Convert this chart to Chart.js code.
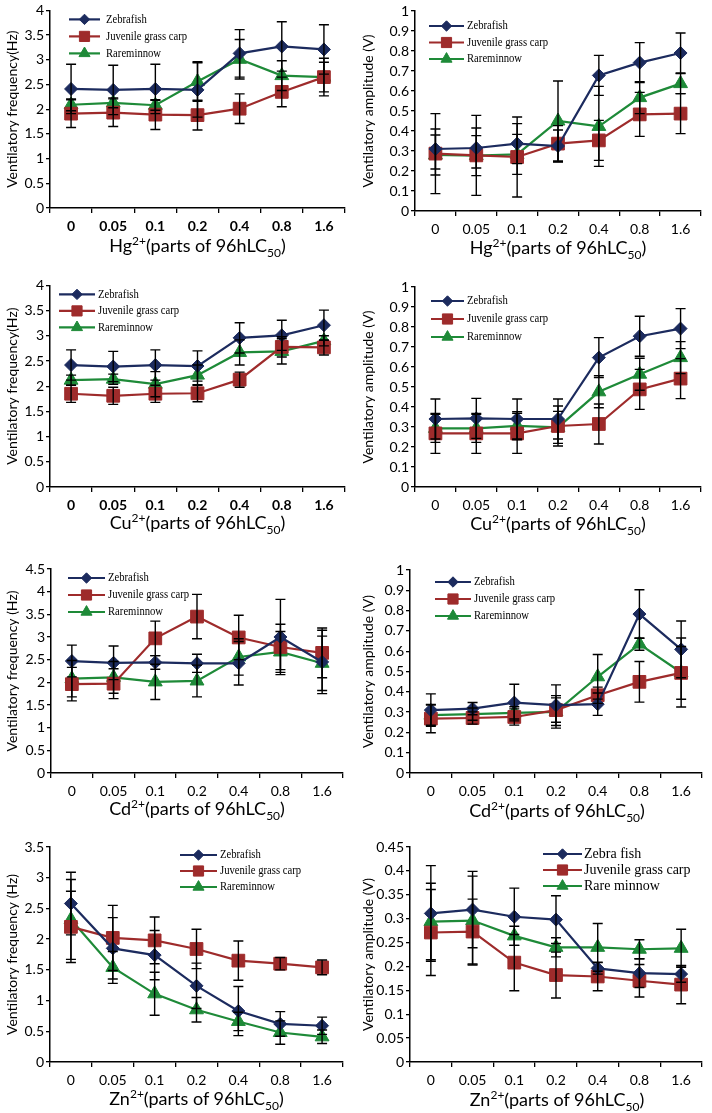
<!DOCTYPE html>
<html>
<head>
<meta charset="utf-8">
<script src="https://cdn.jsdelivr.net/npm/chart.js@4.4.1/dist/chart.umd.min.js"></script>
<style>
  body { margin: 0; background: #fff; }
  #page { position: relative; width: 712px; height: 1113px; overflow: hidden; }
  .box { position: absolute; }
  .xt { position: absolute; font-family: Lato, sans-serif; font-size: 18px; color: #000;
        text-align: center; white-space: nowrap; line-height: 20px; }
  .xt sup, .xt sub { font-size: 12px; line-height: 0; }
</style>
</head>
<body>
<div id="page"></div>
<script>
const doses = ['0', '0.05', '0.1', '0.2', '0.4', '0.8', '1.6'];
const species = ['Zebrafish', 'Juvenile grass carp', 'Rareminnow'];
const speciesZn = ['Zebra fish', 'Juvenile grass carp', 'Rare minnow'];

// rows: zebrafish, juvenile grass carp, rare minnow
const hgFreq = [
  [2.41, 2.39, 2.41, 2.39, 3.13, 3.27, 3.21],
  [1.91, 1.93, 1.89, 1.88, 2.01, 2.35, 2.65],
  [2.09, 2.13, 2.08, 2.56, 3.01, 2.68, 2.65]
];
const hgFreqSd = [
  [0.5, 0.5, 0.5, 0.55, 0.48, 0.5, 0.5],
  [0.28, 0.28, 0.3, 0.3, 0.3, 0.3, 0.38],
  [0.12, 0.1, 0.1, 0.4, 0.4, 0.3, 0.3]
];
const hgAmp = [
  [0.31, 0.315, 0.337, 0.325, 0.678, 0.742, 0.79],
  [0.287, 0.278, 0.27, 0.337, 0.353, 0.483, 0.487],
  [0.28, 0.277, 0.283, 0.45, 0.423, 0.567, 0.637]
];
const hgAmpSd = [
  [0.1, 0.1, 0.1, 0.08, 0.1, 0.1, 0.1],
  [0.2, 0.2, 0.2, 0.09, 0.1, 0.11, 0.1],
  [0.1, 0.1, 0.1, 0.2, 0.2, 0.08, 0.05]
];
const cuFreq = [
  [2.42, 2.39, 2.42, 2.40, 2.96, 3.01, 3.21],
  [1.85, 1.81, 1.85, 1.86, 2.13, 2.78, 2.77],
  [2.12, 2.14, 2.04, 2.22, 2.67, 2.69, 2.9]
];
const cuFreqSd = [
  [0.3, 0.3, 0.3, 0.3, 0.3, 0.3, 0.3],
  [0.17, 0.17, 0.17, 0.17, 0.15, 0.2, 0.15],
  [0.1, 0.1, 0.25, 0.2, 0.25, 0.25, 0.1]
];
const cuAmp = [
  [0.34, 0.343, 0.34, 0.34, 0.647, 0.754, 0.792],
  [0.268, 0.268, 0.268, 0.305, 0.315, 0.488, 0.542],
  [0.293, 0.293, 0.306, 0.298, 0.476, 0.564, 0.647]
];
const cuAmpSd = [
  [0.1, 0.1, 0.1, 0.1, 0.1, 0.1, 0.1],
  [0.1, 0.1, 0.1, 0.1, 0.1, 0.1, 0.1],
  [0.07, 0.07, 0.07, 0.08, 0.08, 0.08, 0.08]
];
const cdFreq = [
  [2.47, 2.43, 2.44, 2.42, 2.42, 3.0, 2.45],
  [1.96, 1.97, 2.97, 3.45, 2.99, 2.78, 2.65],
  [2.08, 2.11, 2.01, 2.03, 2.56, 2.67, 2.42]
];
const cdFreqSd = [
  [0.35, 0.37, 0.15, 0.2, 0.48, 0.83, 0.7],
  [0.37, 0.33, 0.38, 0.49, 0.49, 0.5, 0.55],
  [0.4, 0.35, 0.39, 0.35, 0.4, 0.45, 0.6]
];
const cdAmp = [
  [0.31, 0.317, 0.347, 0.334, 0.339, 0.783, 0.609],
  [0.268, 0.271, 0.276, 0.31, 0.383, 0.449, 0.493],
  [0.285, 0.29, 0.296, 0.301, 0.474, 0.635, 0.495]
];
const cdAmpSd = [
  [0.08, 0.03, 0.09, 0.1, 0.055, 0.12, 0.14],
  [0.07, 0.03, 0.04, 0.06, 0.04, 0.1, 0.13],
  [0.05, 0.03, 0.03, 0.08, 0.11, 0.03, 0.17]
];
const znFreq = [
  [2.58, 1.85, 1.74, 1.24, 0.83, 0.62, 0.59],
  [2.2, 2.02, 1.98, 1.84, 1.65, 1.6, 1.54],
  [2.32, 1.54, 1.11, 0.85, 0.66, 0.48, 0.41]
];
const znFreqSd = [
  [0.51, 0.5, 0.4, 0.37, 0.4, 0.2, 0.14],
  [0.58, 0.53, 0.38, 0.32, 0.32, 0.1, 0.12],
  [0.65, 0.26, 0.35, 0.2, 0.15, 0.19, 0.11]
];
const znAmp = [
  [0.311, 0.319, 0.304, 0.298, 0.196, 0.186, 0.184],
  [0.271, 0.273, 0.208, 0.182, 0.179, 0.17, 0.162],
  [0.294, 0.296, 0.264, 0.24, 0.24, 0.236, 0.238]
];
const znAmpSd = [
  [0.1, 0.08, 0.06, 0.05, 0.012, 0.03, 0.017],
  [0.09, 0.068, 0.059, 0.048, 0.03, 0.034, 0.04],
  [0.08, 0.093, 0.02, 0.02, 0.05, 0.02, 0.04]
];

const colors = ['#1c2b5e', '#9e2b2b', '#1e8a38'];
const shapes = ['rectRot', 'rect', 'triangle'];
const radii = [6.5, 9, 8];

function xTitle(ion) {
  return ion + '<sup>2+</sup>(parts of 96hLC<sub>50</sub>)';
}

// area = [left, top, right, bottom] of the plot in page pixels
const panels = [
  { ox: 0, oy: 0, area: [50, 8, 345, 208], max: 4, step: 0.5, ytitle: 'Ventilatory frequency(Hz)',
    mean: hgFreq, sd: hgFreqSd, bold: true, title: xTitle('Hg'), ty: 245,
    leg: { x: 19, y: 9, gap: 17, len: 31, names: species, size: 13, sx: 0.82, pad: 6 } },
  { ox: 356, oy: 0, area: [415, 11, 701, 211], max: 1, step: 0.1, ytitle: 'Ventilatory amplitude (V)',
    mean: hgAmp, sd: hgAmpSd, bold: false, title: xTitle('Hg'), ty: 247,
    leg: { x: 14, y: 15, gap: 16.5, len: 35, names: species, size: 13, sx: 0.82, pad: 3 } },
  { ox: 0, oy: 275, area: [50, 284, 345, 487], max: 4, step: 0.5, ytitle: 'Ventilatory frequency(Hz)',
    mean: cuFreq, sd: cuFreqSd, bold: true, title: xTitle('Cu'), ty: 522,
    leg: { x: 9, y: 9, gap: 16.5, len: 36, names: species, size: 13, sx: 0.82, pad: 3 } },
  { ox: 356, oy: 275, area: [415, 287, 701, 487], max: 1, step: 0.1, ytitle: 'Ventilatory amplitude (V)',
    mean: cuAmp, sd: cuAmpSd, bold: false, title: xTitle('Cu'), ty: 523,
    leg: { x: 16, y: 14, gap: 18, len: 33, names: species, size: 13, sx: 0.82, pad: 3 } },
  { ox: 0, oy: 550, area: [51, 569, 343, 773], max: 4.5, step: 0.5, ytitle: 'Ventilatory frequency (Hz)',
    mean: cdFreq, sd: cdFreqSd, bold: false, title: xTitle('Cd'), ty: 808,
    leg: { x: 17, y: 9, gap: 17, len: 37, names: species, size: 13, sx: 0.82, pad: 3 } },
  { ox: 356, oy: 550, area: [410, 570, 704, 773], max: 1, step: 0.1, ytitle: 'Ventilatory amplitude (V)',
    mean: cdAmp, sd: cdAmpSd, bold: false, title: xTitle('Cd'), ty: 810,
    leg: { x: 25, y: 12, gap: 17, len: 36, names: species, size: 13, sx: 0.82, pad: 3 } },
  { ox: 0, oy: 830, area: [50, 847, 343, 1062], max: 3.5, step: 0.5, ytitle: 'Ventilatory frequency (Hz)',
    mean: znFreq, sd: znFreqSd, bold: false, title: xTitle('Zn'), ty: 1098,
    leg: { x: 130, y: 8, gap: 16, len: 37, names: species, size: 13, sx: 0.82, pad: 3 } },
  { ox: 356, oy: 830, area: [410, 847, 704, 1062], max: 0.45, step: 0.05, ytitle: 'Ventilatory amplitude (V)',
    mean: znAmp, sd: znAmpSd, bold: false, title: xTitle('Zn'), ty: 1099,
    leg: { x: 133, y: 7, gap: 16, len: 39, names: speciesZn, size: 14, sx: 1, pad: 2 } }
];

const errorBars = {
  id: 'errorBars',
  afterDatasetsDraw(chart) {
    const ctx = chart.ctx;
    const y = chart.scales.y;
    ctx.save();
    ctx.strokeStyle = '#000';
    ctx.lineWidth = 1.4;
    chart.data.datasets.forEach((ds, i) => {
      const meta = chart.getDatasetMeta(i);
      meta.data.forEach((pt, j) => {
        const v = ds.data[j];
        const e = ds.sd[j];
        const top = y.getPixelForValue(v + e);
        const bot = y.getPixelForValue(v - e);
        ctx.beginPath();
        ctx.moveTo(pt.x, top); ctx.lineTo(pt.x, bot);
        ctx.moveTo(pt.x - 5, top); ctx.lineTo(pt.x + 5, top);
        ctx.moveTo(pt.x - 5, bot); ctx.lineTo(pt.x + 5, bot);
        ctx.stroke();
      });
    });
    ctx.restore();
  }
};

const inLegend = {
  id: 'inlegend',
  afterDraw(chart, args, o) {
    const ctx = chart.ctx;
    const a = chart.chartArea;
    chart.data.datasets.forEach((ds, i) => {
      const y = a.top + o.y + i * o.gap;
      const x0 = a.left + o.x;
      ctx.save();
      ctx.strokeStyle = ds.borderColor;
      ctx.lineWidth = 2.2;
      ctx.beginPath(); ctx.moveTo(x0, y); ctx.lineTo(x0 + o.len, y); ctx.stroke();
      ctx.fillStyle = ds.backgroundColor;
      ctx.strokeStyle = ds.borderColor;
      ctx.lineWidth = 1;
      Chart.helpers.drawPoint(ctx, { pointStyle: ds.pointStyle, radius: ds.pointRadius * 0.8, borderWidth: 1, rotation: 0 }, x0 + o.len / 2, y);
      ctx.fillStyle = '#000';
      ctx.font = o.size + 'px "Liberation Serif", "Times New Roman", serif';
      ctx.textBaseline = 'middle';
      ctx.translate(x0 + o.len + o.pad, y);
      ctx.scale(o.sx, 1);
      ctx.fillText(o.names[i], 0, 0);
      ctx.restore();
    });
  }
};

Chart.register(errorBars, inLegend);

const page = document.getElementById('page');
const xh = 30;

panels.forEach(p => {
  const [l, t, r, b] = p.area;
  const box = document.createElement('div');
  box.className = 'box';
  box.style.left = p.ox + 'px';
  box.style.top = p.oy + 'px';
  box.style.width = '356px';
  box.style.height = (b - p.oy + xh) + 'px';
  const cv = document.createElement('canvas');
  box.appendChild(cv);
  page.appendChild(box);

  const tt = document.createElement('div');
  tt.className = 'xt';
  tt.style.left = l + 'px';
  tt.style.width = (r - l) + 'px';
  tt.style.top = (p.ty - 10) + 'px';
  tt.innerHTML = p.title;
  page.appendChild(tt);

  new Chart(cv, {
    type: 'line',
    data: {
      labels: doses,
      datasets: [0, 1, 2].map(k => ({
        label: p.leg.names[k],
        data: p.mean[k],
        sd: p.sd[k],
        borderColor: colors[k],
        backgroundColor: colors[k],
        pointStyle: shapes[k],
        pointRadius: radii[k],
        pointBorderWidth: 1,
        borderWidth: 2.2,
        tension: 0
      }))
    },
    options: {
      responsive: true,
      maintainAspectRatio: false,
      animation: false,
      layout: {
        padding: { top: t - p.oy, right: p.ox + 356 - r, left: 0, bottom: 0 }
      },
      plugins: {
        legend: { display: false },
        tooltip: { enabled: false },
        inlegend: p.leg
      },
      scales: {
        x: {
          type: 'category',
          offset: true,
          grid: { display: true, offset: true, drawOnChartArea: false, drawTicks: true, tickLength: 5, color: '#000', lineWidth: 1.3 },
          border: { display: true, color: '#000', width: 1.5 },
          ticks: {
            color: '#000',
            font: { family: 'Lato', size: 14, weight: p.bold ? 'bold' : 'normal' },
            padding: 5,
            maxRotation: 0,
            autoSkip: false
          },
          afterFit: s => { s.height = xh; }
        },
        y: {
          min: 0,
          max: p.max,
          grid: { display: true, drawOnChartArea: false, drawTicks: true, tickLength: 4, color: '#000', lineWidth: 1.3 },
          border: { display: true, color: '#000', width: 1.5 },
          ticks: {
            stepSize: p.step,
            color: '#000',
            font: { family: 'Lato', size: 14 },
            padding: 2,
            callback: v => String(Math.round(v * 100) / 100)
          },
          title: {
            display: true,
            text: p.ytitle,
            color: '#000',
            font: { family: 'Lato', size: 14 },
            padding: { top: 4, bottom: 0 }
          },
          afterFit: s => { s.width = l - p.ox; }
        }
      }
    }
  });
});
</script>
</body>
</html>
